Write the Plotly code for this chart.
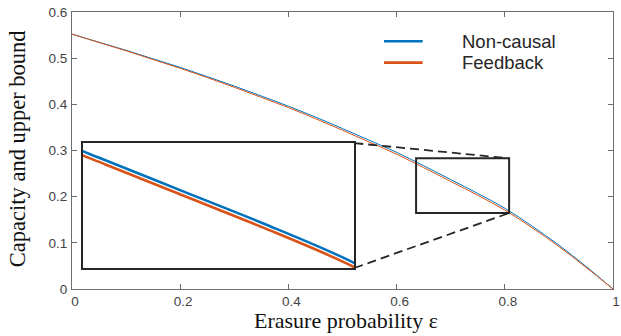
import plotly.graph_objects as go

# ---- data ----
epsilon = [0.00, 0.05, 0.10, 0.15, 0.20, 0.25, 0.30, 0.35, 0.40, 0.45, 0.50,
           0.55, 0.60, 0.65, 0.70, 0.75, 0.80, 0.85, 0.90, 0.95, 1.00]
noncausal = [0.552, 0.5345, 0.517, 0.4985, 0.480, 0.460, 0.4395, 0.418, 0.396, 0.3725, 0.3475,
             0.322, 0.296, 0.267, 0.237, 0.207, 0.175, 0.1365, 0.095, 0.049, 0.000]
feedback = [0.552, 0.534, 0.516, 0.497, 0.478, 0.458, 0.437, 0.415, 0.393, 0.369, 0.344,
            0.318, 0.292, 0.263, 0.233, 0.203, 0.171, 0.133, 0.092, 0.047, 0.000]
series_names = ["Non-causal", "Feedback"]
x_ticks = [0, 0.2, 0.4, 0.6, 0.8, 1]
x_ticklabels = ["0", "0.2", "0.4", "0.6", "0.8", "1"]
y_ticks = [0, 0.1, 0.2, 0.3, 0.4, 0.5, 0.6]
y_ticklabels = ["0", "0.1", "0.2", "0.3", "0.4", "0.5", "0.6"]
zoom_x = [0.636, 0.808]
zoom_y = [0.1645, 0.283]
inset_x = [0.0198, 0.5218]
inset_y = [0.0455, 0.316]

BLUE = "#0072BD"
ORANGE = "#D95319"
AXC = "#6e6e6e"
DARK = "#262626"

fig = go.Figure()
# main curves
fig.add_trace(go.Scatter(x=epsilon, y=noncausal, mode="lines", line=dict(color=BLUE, width=1, shape="spline"),
                         showlegend=False, xaxis="x", yaxis="y"))
fig.add_trace(go.Scatter(x=epsilon, y=feedback, mode="lines", line=dict(color=ORANGE, width=1, shape="spline"),
                         showlegend=False, xaxis="x", yaxis="y"))
# inset curves
fig.add_trace(go.Scatter(x=epsilon, y=noncausal, mode="lines", line=dict(color=BLUE, width=2.6, shape="spline"),
                         showlegend=False, xaxis="x2", yaxis="y2"))
fig.add_trace(go.Scatter(x=epsilon, y=feedback, mode="lines", line=dict(color=ORANGE, width=2.6, shape="spline"),
                         showlegend=False, xaxis="x2", yaxis="y2"))

tickfont = dict(family="Liberation Sans, Arial, sans-serif", size=13.5, color="#444444")
serif = "Liberation Serif, Times New Roman, serif"

fig.update_layout(
    width=621, height=336,
    margin=dict(l=72, r=8, t=12, b=47, autoexpand=False),
    paper_bgcolor="white", plot_bgcolor="white",
    xaxis=dict(domain=[0, 1], range=[0, 1], tickvals=x_ticks, ticktext=x_ticklabels,
               ticks="inside", ticklen=5, tickcolor=AXC, showline=True, linecolor=AXC, linewidth=1,
               mirror="ticks", showgrid=False, zeroline=False, tickfont=tickfont,
               ticklabelstandoff=0, ticklabelshift=3, ticklabeloverflow="allow", fixedrange=True),
    yaxis=dict(domain=[0, 1], range=[0, 0.6], tickvals=y_ticks, ticktext=y_ticklabels,
               ticks="inside", ticklen=5, tickcolor=AXC, showline=True, linecolor=AXC, linewidth=1,
               mirror="ticks", showgrid=False, zeroline=False, tickfont=tickfont,
               ticklabelstandoff=1, ticklabeloverflow="allow", fixedrange=True),
    xaxis2=dict(domain=[inset_x[0], inset_x[1]], range=zoom_x, anchor="y2",
                showticklabels=False, ticks="", showgrid=False, zeroline=False,
                showline=True, mirror=True, linecolor=DARK, linewidth=2, fixedrange=True),
    yaxis2=dict(domain=[inset_y[0] / 0.6, inset_y[1] / 0.6], range=zoom_y, anchor="x2",
                showticklabels=False, ticks="", showgrid=False, zeroline=False,
                showline=True, mirror=True, linecolor=DARK, linewidth=2, fixedrange=True),
    showlegend=False,
)

# zoom rectangle and connector lines
fig.add_shape(type="rect", xref="x", yref="y", x0=zoom_x[0], x1=zoom_x[1], y0=zoom_y[0], y1=zoom_y[1],
              line=dict(color=DARK, width=2))
fig.add_shape(type="line", xref="x", yref="y", x0=inset_x[1], y0=inset_y[1], x1=zoom_x[1], y1=zoom_y[1],
              line=dict(color=DARK, width=1.8, dash="9px,5px"))
fig.add_shape(type="line", xref="x", yref="y", x0=inset_x[1], y0=inset_y[0], x1=zoom_x[1], y1=zoom_y[0],
              line=dict(color=DARK, width=1.8, dash="9px,5px"))

# legend (drawn manually)
leg_y = [0.8943, 0.8172]
for name, col, yy in zip(series_names, [BLUE, ORANGE], leg_y):
    fig.add_shape(type="line", xref="paper", yref="paper", x0=0.5767, x1=0.6482, y0=yy, y1=yy,
                  line=dict(color=col, width=2.6))
    fig.add_annotation(xref="paper", yref="paper", x=0.717, y=yy, text=name, showarrow=False,
                       xanchor="left", yanchor="middle",
                       font=dict(family="Liberation Sans, Arial, sans-serif", size=18.5, color="#262626"))

# axis titles
fig.add_annotation(xref="paper", yref="paper", x=0.5065, y=-0.113, text="Erasure probability ε",
                   showarrow=False, xanchor="center", yanchor="middle",
                   font=dict(family=serif, size=22, color="#111111"))
fig.add_annotation(xref="paper", yref="paper", x=-0.101, y=0.506, text="Capacity and upper bound",
                   showarrow=False, xanchor="center", yanchor="middle", textangle=-90,
                   font=dict(family=serif, size=22.5, color="#111111"))

fig.write_html("out.html", config={"displayModeBar": False},
               post_script="document.body.style.margin='0';document.body.style.overflow='hidden';")
